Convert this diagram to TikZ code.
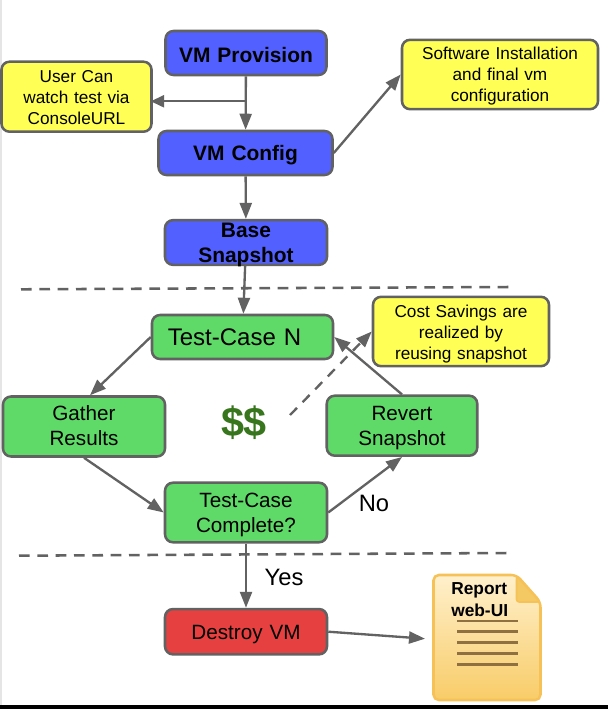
\documentclass[tikz,border=0pt]{standalone}
\usepackage{fontspec}
\setmainfont{Liberation Sans}
\usetikzlibrary{arrows.meta}
\definecolor{linegray}{HTML}{626262}
\definecolor{vmblue}{HTML}{5260FF}
\definecolor{notefill}{HTML}{FFFF55}
\definecolor{testgreen}{HTML}{5FD967}
\definecolor{stopred}{HTML}{E64040}
\definecolor{moneygreen}{HTML}{38761D}
\definecolor{pagetop}{HTML}{FFF0CC}
\definecolor{pagemid}{HTML}{F9D070}
\definecolor{pagelow}{HTML}{F8CC68}
\definecolor{pageedge}{HTML}{F6C258}
\definecolor{pagefold}{HTML}{F4C862}
\definecolor{pageline}{HTML}{8F7040}
\tikzset{
	box/.style={draw=linegray,line width=1.9pt,rounded corners=6pt,align=center,inner sep=0pt,text width=#1*0.75pt,minimum width=#1*0.75pt},
	vmbox/.style={box=#1,fill=vmblue,font=\bfseries\fontsize{15.7}{18.75}\selectfont},
	notebox/.style={box=#1,fill=notefill,font=\fontsize{12.9}{15.75}\selectfont},
	testbox/.style={box=#1,fill=testgreen,font=\fontsize{15.5}{18.75}\selectfont},
	% first baseline above or below the middle of the box, in pixels
	upfirst/.style={text height=0pt,text depth=#1*1.5pt},
	downfirst/.style={text height=#1*1.5pt,text depth=0pt},
	link/.style={draw=linegray,line width=1.75pt,-{Triangle[length=12pt,width=9pt]}},
	sep/.style={draw=linegray,line width=1.9pt,dash pattern=on 8pt off 5.75pt},
}
\begin{document}
\begin{tikzpicture}[x=0.75pt,y=-0.75pt]
		%%%%% START %%%%%
		\useasboundingbox (0, 0) rectangle (608, 709);
		\fill[white] (0, 0) rectangle (608, 709);
		\fill[black!10] (0, 0) rectangle (1.5, 705);
		\fill[black] (0, 705) rectangle (608, 709);
		
		\node[vmbox=161, minimum height=33pt, downfirst=9.7] (provision) at (246, 53) {VM Provision};
		\node[vmbox=174, minimum height=33pt, downfirst=7.7] (config) at (245.5, 153) {VM Config};
		\node[vmbox=162, minimum height=33.5pt, upfirst=5.2] (base) at (246, 242.5) {Base\\Snapshot};
		
		\node[notebox=150, minimum height=52.5pt, upfirst=14.5] (user) at (76.5, 96.7) {User Can\\watch test via\\ConsoleURL};
		\node[notebox=196, minimum height=52pt, upfirst=14.5] (software) at (500, 74.5) {Software Installation\\and final vm\\configuration};
		\node[notebox=176, minimum height=52pt, upfirst=14.5] (savings) at (461, 331.5) {Cost Savings are\\realized by\\reusing snapshot};
		
		\node[testbox=181, minimum height=33pt, font=\fontsize{18}{21}\selectfont, downfirst=8.7] (testn) at (242.5, 337) {Test-Case N\hspace*{12pt}\mbox{}};
		\node[testbox=162, minimum height=45pt, upfirst=6] (gather) at (84, 426.5) {Gather\\Results};
		\node[testbox=150.5, minimum height=45pt, upfirst=5.3] (revert) at (402, 425.7) {Revert\\Snapshot};
		\node[testbox=162, minimum height=44.7pt, upfirst=5.2] (complete) at (246, 512.5) {Test-Case\\Complete?};
		\node[testbox=162, minimum height=34pt, fill=stopred, downfirst=7.6] (destroy) at (246, 631.7) {Destroy VM};
		
		\node[text=moneygreen, font=\bfseries\fontsize{31}{31}\selectfont] (money) at (244, 423) {\$\$};
		\node[anchor=base, inner sep=0pt, font=\fontsize{17.8}{21}\selectfont] (no) at (374, 511.3) {No};
		\node[anchor=base, inner sep=0pt, font=\fontsize{17.8}{21}\selectfont] (yes) at (284, 585.3) {Yes};
		
		% dashed separators
		\coordinate (sepa) at (21, 289.3);
		\coordinate (sepb) at (510, 287);
		\coordinate (sepc) at (19, 555.7);
		\coordinate (sepd) at (508, 553);
		\draw[sep] (sepa) -- (sepb);
		\draw[sep] (sepc) -- (sepd);
		
		% report page
		\shade[top color=pagetop, middle color=pagemid, bottom color=pagelow, draw=pageedge, line width=1.9pt, rounded corners=4pt] (433.5, 575) -- (516.5, 575) -- (540.5, 602) -- (540.5, 700) -- (433.5, 700) -- cycle;
		\fill[pagefold, draw=pageedge, line width=1.2pt, rounded corners=2pt] (516.5, 576) -- (516.5, 602) -- (540, 602) -- cycle;
		\foreach \y in {620.7, 631.5, 642.5, 653.5, 664.5}
			\draw[pageline, line width=1.8pt] (457, \y) -- (518, \y);
		\node[anchor=base west, align=left, inner sep=0pt, font=\bfseries\fontsize{13}{16.3}\selectfont] (report) at (451, 616.7) {Report\\web-UI};
		\coordinate (page) at (425, 638.7);
		
		% connectors
		\coordinate (branch) at (246, 101.3);
		\draw[link] (provision) -- (config);
		\draw[link, -{Triangle[length=10pt,width=9pt]}] (branch) -- ([xshift=-1.5pt]user.east |- branch);
		\draw[link] (config.east) -- (software.west);
		\draw[link] (config) -- (base);
		\draw[link] (base) -- (testn);
		\draw[link] (testn.west) -- ([xshift=4.5pt]gather.north);
		\draw[link] (gather.south) -- (complete.west);
		\draw[link] (complete.east) -- (revert.south);
		\draw[link] (revert.north) -- (testn.east);
		\draw[link] (complete) -- (destroy);
		\draw[link] (destroy.east) -- (page);
		
		\coordinate (dashstart) at (290, 415);
		\draw[link, dash pattern=on 7.5pt off 6pt] (dashstart) -- (savings.west);
		%%%%% END %%%%%
	\end{tikzpicture}
\end{document}
